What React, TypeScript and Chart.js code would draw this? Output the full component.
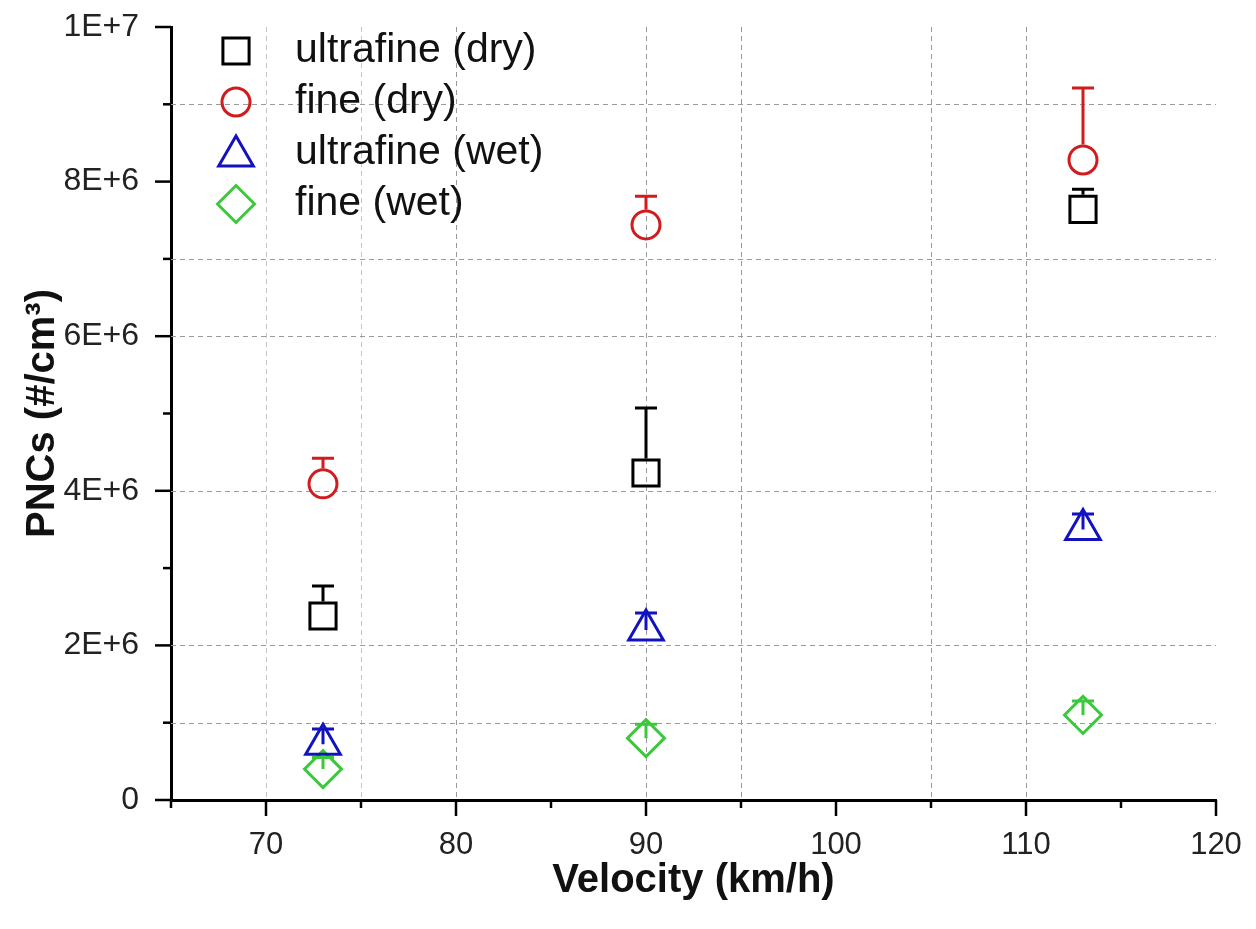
import React, { useEffect, useRef } from 'react';
import { Chart, registerables } from 'chart.js';
import { drawPoint } from 'chart.js/helpers';

Chart.register(...registerables);

// ---- data ----
const velocities = [73, 90, 113];

const ultrafineDry = [2.38e6, 4.23e6, 7.64e6];
const ultrafineDryErr = [0.39e6, 0.84e6, 0.26e6];

const fineDry = [4.09e6, 7.44e6, 8.28e6];
const fineDryErr = [0.33e6, 0.37e6, 0.93e6];

const ultrafineWet = [0.72e6, 2.2e6, 3.5e6];
const ultrafineWetErr = [0.2e6, 0.22e6, 0.2e6];

const fineWet = [0.4e6, 0.8e6, 1.1e6];
const fineWetErr = [0.15e6, 0.18e6, 0.18e6];

const seriesNames = ['ultrafine (dry)', 'fine (dry)', 'ultrafine (wet)', 'fine (wet)'];

const xTickValues = [70, 80, 90, 100, 110, 120];
const xTickLabels = ['70', '80', '90', '100', '110', '120'];
const xMinorTicks = [65, 75, 85, 95, 105, 115];

const yTickValues = [0, 2e6, 4e6, 6e6, 8e6, 1e7];
const yTickLabels = ['0', '2E+6', '4E+6', '6E+6', '8E+6', '1E+7'];
const yMinorTicks = [1e6, 3e6, 5e6, 7e6, 9e6];

const xGridValues = [70, 75, 80, 90, 95, 105, 110];
const yGridValues = [1e6, 2e6, 4e6, 6e6, 7e6, 9e6];

const xAxisTitle = 'Velocity (km/h)';
const yAxisTitle = 'PNCs (#/cm\u00B3)';

// ---- styles ----
const FONT = 'Arial, "Liberation Sans", Helvetica, sans-serif';
const seriesStyles = [
  { color: '#000000', pointStyle: 'rect', radius: 18.5, halfH: 14.6 },
  { color: '#d01c1f', pointStyle: 'circle', radius: 14, halfH: 15.5 },
  { color: '#1212c0', pointStyle: 'triangle', radius: 20, halfH: 21.5 },
  { color: '#3cc83c', pointStyle: 'rectRot', radius: 18.5, halfH: 20 },
];
const lightGridX: Record<number, string> = { 70: '#c4c4c4', 75: '#c4c4c4' };

const seriesValues = [ultrafineDry, fineDry, ultrafineWet, fineWet];
const seriesErrors = [ultrafineDryErr, fineDryErr, ultrafineWetErr, fineWetErr];

const gridPlugin = {
  id: 'customGrid',
  beforeDatasetsDraw(chart: any) {
    const { ctx, chartArea, scales } = chart;
    const xs = scales.x;
    const ys = scales.y;
    ctx.save();
    ctx.lineWidth = 1;
    ctx.setLineDash([5, 4]);
    xGridValues.forEach((v) => {
      const px = Math.round(xs.getPixelForValue(v)) + 0.5;
      ctx.strokeStyle = lightGridX[v] || '#9a9a9a';
      ctx.beginPath();
      ctx.moveTo(px, chartArea.top);
      ctx.lineTo(px, chartArea.bottom);
      ctx.stroke();
    });
    ctx.strokeStyle = '#9a9a9a';
    yGridValues.forEach((v) => {
      const py = Math.round(ys.getPixelForValue(v)) + 0.5;
      ctx.beginPath();
      ctx.moveTo(chartArea.left, py);
      ctx.lineTo(chartArea.right, py);
      ctx.stroke();
    });
    ctx.restore();
  },
};

const errorBarPlugin = {
  id: 'errorBars',
  afterDatasetsDraw(chart: any) {
    const { ctx, scales } = chart;
    const xs = scales.x;
    const ys = scales.y;
    ctx.save();
    ctx.lineWidth = 3;
    ctx.setLineDash([]);
    seriesValues.forEach((vals, si) => {
      const st = seriesStyles[si];
      ctx.strokeStyle = st.color;
      vals.forEach((v, i) => {
        const px = xs.getPixelForValue(velocities[i]);
        const py = ys.getPixelForValue(v);
        const pt = ys.getPixelForValue(v + seriesErrors[si][i]);
        const edge = py - st.halfH;
        const start = pt < edge ? edge : py;
        ctx.beginPath();
        ctx.moveTo(px, start);
        ctx.lineTo(px, pt);
        ctx.moveTo(px - 11, pt);
        ctx.lineTo(px + 11, pt);
        ctx.stroke();
      });
    });
    ctx.restore();
  },
};

const tickPlugin = {
  id: 'tickMarks',
  afterDraw(chart: any) {
    const { ctx, chartArea, scales } = chart;
    const xs = scales.x;
    const ys = scales.y;
    ctx.save();
    ctx.strokeStyle = '#000';
    ctx.lineWidth = 2.5;
    ctx.setLineDash([]);
    const left = chartArea.left;
    const bottom = chartArea.bottom;
    const drawY = (v: number, len: number) => {
      const py = ys.getPixelForValue(v);
      ctx.beginPath();
      ctx.moveTo(left - len, py);
      ctx.lineTo(left, py);
      ctx.stroke();
    };
    const drawX = (v: number, len: number) => {
      const px = xs.getPixelForValue(v);
      ctx.beginPath();
      ctx.moveTo(px, bottom);
      ctx.lineTo(px, bottom + len);
      ctx.stroke();
    };
    yTickValues.forEach((v) => drawY(v, 16));
    yMinorTicks.forEach((v) => drawY(v, 8));
    xTickValues.forEach((v) => drawX(v, 16));
    xMinorTicks.forEach((v) => drawX(v, 8));
    ctx.restore();
  },
};

const legendPlugin = {
  id: 'insideLegend',
  afterDraw(chart: any) {
    const { ctx, chartArea } = chart;
    ctx.save();
    const markerX = chartArea.left + 65;
    const textX = chartArea.left + 124;
    const rowY = [51, 102, 153, 204];
    ctx.font = `41px ${FONT}`;
    ctx.textBaseline = 'middle';
    ctx.textAlign = 'left';
    seriesNames.forEach((name, i) => {
      const st = seriesStyles[i];
      const y = rowY[i] + (st.pointStyle === 'triangle' ? 3 : 0);
      ctx.strokeStyle = st.color;
      ctx.fillStyle = 'rgba(0,0,0,0)';
      ctx.lineWidth = 3;
      drawPoint(ctx, { pointStyle: st.pointStyle as any, radius: st.radius, rotation: 0, borderWidth: 3 }, markerX, y);
      ctx.fillStyle = '#111';
      ctx.fillText(name, textX, rowY[i]);
    });
    ctx.restore();
  },
};

export default function App() {
  const canvasRef = useRef<HTMLCanvasElement | null>(null);

  useEffect(() => {
    document.body.style.margin = '0';
    const canvas = canvasRef.current;
    if (!canvas) return;

    const datasets = seriesValues.map((vals, si) => ({
      label: seriesNames[si],
      data: vals.map((v, i) => ({ x: velocities[i], y: v })),
      showLine: false,
      pointStyle: seriesStyles[si].pointStyle as any,
      pointRadius: seriesStyles[si].radius,
      pointHoverRadius: seriesStyles[si].radius,
      pointBorderWidth: 3,
      borderColor: seriesStyles[si].color,
      backgroundColor: 'rgba(0,0,0,0)',
      pointBackgroundColor: 'rgba(0,0,0,0)',
      pointBorderColor: seriesStyles[si].color,
    }));

    const chart = new Chart(canvas, {
      type: 'scatter',
      data: { datasets },
      options: {
        animation: false,
        responsive: true,
        maintainAspectRatio: false,
        layout: { padding: { left: 0, top: 27, right: 40, bottom: 0 } },
        plugins: {
          legend: { display: false },
          tooltip: { enabled: false },
        },
        scales: {
          x: {
            type: 'linear',
            min: 65,
            max: 120,
            grid: { display: false, drawTicks: true, tickLength: 24 },
            border: { display: true, color: '#000', width: 3 },
            afterBuildTicks: (s: any) => {
              s.ticks = xTickValues.map((v) => ({ value: v }));
            },
            afterFit: (s: any) => {
              s.height = 129;
            },
            ticks: {
              autoSkip: false,
              maxRotation: 0,
              padding: 3,
              color: '#222',
              font: { family: FONT, size: 31 },
              callback: (_v: any, i: number) => xTickLabels[i],
            },
            title: {
              display: true,
              text: xAxisTitle,
              color: '#111',
              font: { family: FONT, size: 40, weight: 'bold' },
              padding: { top: 0, bottom: 24 },
            },
          },
          y: {
            type: 'linear',
            min: 0,
            max: 1e7,
            grid: { display: false, drawTicks: true, tickLength: 26 },
            border: { display: true, color: '#000', width: 3 },
            afterBuildTicks: (s: any) => {
              s.ticks = yTickValues.map((v) => ({ value: v }));
            },
            afterFit: (s: any) => {
              s.width = 171;
            },
            ticks: {
              autoSkip: false,
              padding: 6,
              color: '#222',
              font: { family: FONT, size: 32 },
              callback: (_v: any, i: number) => yTickLabels[i],
            },
            title: {
              display: true,
              text: yAxisTitle,
              color: '#111',
              font: { family: FONT, size: 40, weight: 'bold' },
              padding: { top: 19, bottom: 0 },
            },
          },
        },
      },
      plugins: [gridPlugin, errorBarPlugin, tickPlugin, legendPlugin],
    });

    return () => chart.destroy();
  }, []);

  return (
    <div style={{ position: 'fixed', left: 0, top: 0, width: 1256, height: 929, background: '#fff' }}>
      <canvas ref={canvasRef} />
    </div>
  );
}
